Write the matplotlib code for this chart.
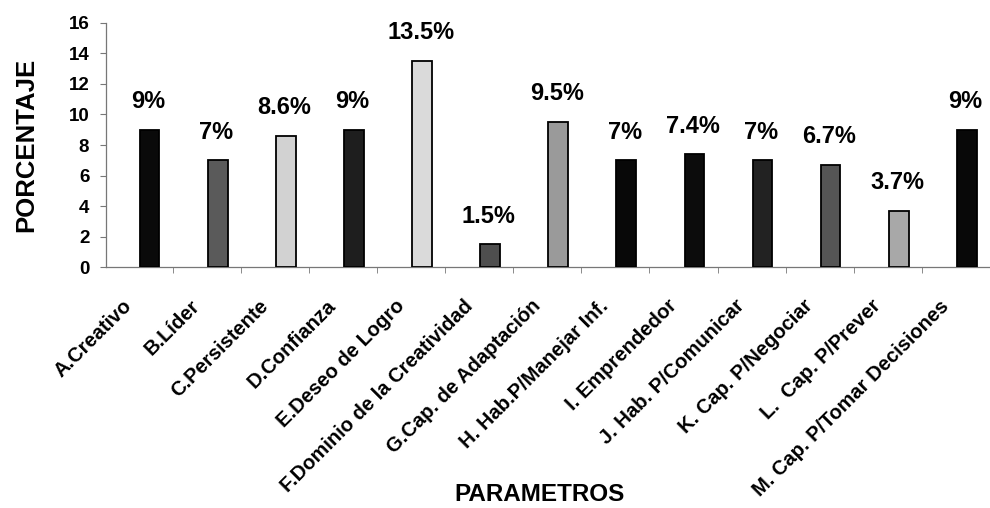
import matplotlib
matplotlib.use("Agg")
import matplotlib.pyplot as plt
import numpy as np

categories = [
    "A.Creativo", "B.Líder", "C.Persistente", "D.Confianza",
    "E.Deseo de Logro", "F.Dominio de la Creatividad",
    "G.Cap. de Adaptación", "H. Hab.P/Manejar Inf.", "I. Emprendedor",
    "J. Hab. P/Comunicar", "K. Cap. P/Negociar", "L.  Cap. P/Prever",
    "M. Cap. P/Tomar Decisiones",
]
values = [9, 7, 8.6, 9, 13.5, 1.5, 9.5, 7, 7.4, 7, 6.7, 3.7, 9]
value_labels = ["9%", "7%", "8.6%", "9%", "13.5%", "1.5%", "9.5%",
                "7%", "7.4%", "7%", "6.7%", "3.7%", "9%"]
bar_colors = ["#0a0a0a", "#5a5a5a", "#d2d2d2", "#1e1e1e", "#dadada",
              "#4e4e4e", "#9a9a9a", "#080808", "#0c0c0c", "#222222",
              "#555555", "#a8a8a8", "#080808"]
y_ticks = [0, 2, 4, 6, 8, 10, 12, 14, 16]

plt.rcParams["font.family"] = ["Liberation Sans", "DejaVu Sans"]
plt.rcParams["font.weight"] = "bold"

fig = plt.figure(figsize=(9.9, 5.08), dpi=100)
ax = fig.add_axes([0.107, 0.474, 0.893, 0.481])

x = np.arange(len(categories))
ax.bar(x, values, width=0.29, color=bar_colors, edgecolor="black",
       linewidth=1.3, zorder=3)

for xi, v, lab in zip(x, values, value_labels):
    ax.annotate(lab, (xi, v), xytext=(-1, 12), textcoords="offset points",
                ha="center", va="bottom", fontsize=17, fontweight="bold")

ax.set_xlim(-0.64, 12.19)
ax.set_ylim(0, 16)
ax.set_yticks(y_ticks)
ax.set_yticklabels([str(t) for t in y_ticks], fontsize=13.5,
                   fontweight="bold")

# category separators drawn as small tick marks on the baseline
ax.set_xticks(x + 0.34, minor=True)
ax.set_xticks(x - 0.4)
ax.set_xticklabels(categories, rotation=45, ha="right",
                   rotation_mode="anchor", fontsize=14.5, fontweight="bold")
ax.tick_params(axis="x", which="major", length=0, pad=21)
ax.tick_params(axis="x", which="minor", length=4, color="#777777",
               direction="out")
ax.tick_params(axis="y", length=4, color="#777777", width=0.8, pad=8)

for side in ("top", "right"):
    ax.spines[side].set_visible(False)
for side in ("left", "bottom"):
    ax.spines[side].set_color("#777777")
    ax.spines[side].set_linewidth(0.9)

ax.set_ylabel("PORCENTAJE", fontsize=18.5, fontweight="bold")
ax.yaxis.set_label_coords(-0.077, 0.5)
fig.text(0.545, 0.014, "PARAMETROS", ha="center", va="baseline",
         fontsize=17.5, fontweight="bold")

fig.savefig("out.png", dpi=100, facecolor="white")
